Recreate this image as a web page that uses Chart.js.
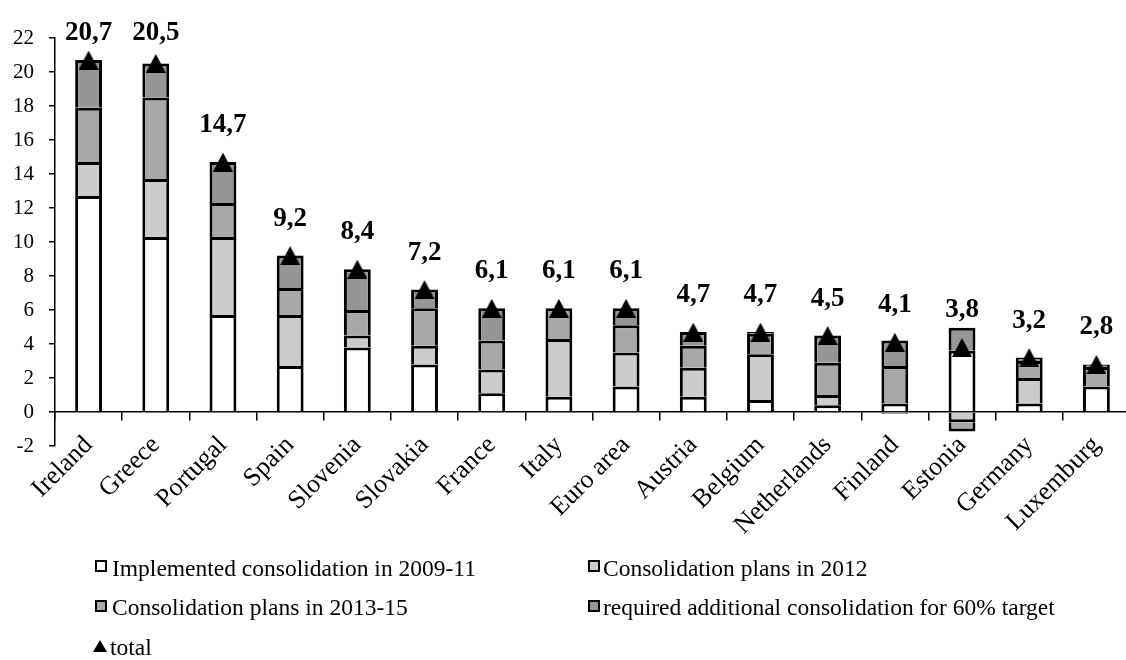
<!DOCTYPE html>
<html>
<head>
<meta charset="utf-8">
<script src="https://cdn.jsdelivr.net/npm/chart.js@4.4.1/dist/chart.umd.min.js"></script>
<style>
  html, body { margin: 0; padding: 0; background: #fff; overflow: hidden; width: 1126px; height: 660px; }
  #wrap { position: absolute; left: 0; top: 0; width: 1140px; height: 560px; }
  #legend { position: absolute; left: 0; top: 0; width: 1126px; height: 660px; pointer-events: none;
            font-family: "Liberation Serif", "Times New Roman", serif; font-size: 23.5px; color: #000; }
  .lg-text { position: absolute; line-height: 23px; white-space: nowrap; }
  .lg-box { position: absolute; width: 12px; height: 12px; box-sizing: border-box; border: 2px solid #000; }
  .lg-tri { position: absolute; width: 0; height: 0; border-left: 7px solid transparent; border-right: 7px solid transparent; border-bottom: 12px solid #000; }
</style>
</head>
<body>
<div id="wrap"><canvas id="c"></canvas></div>
<div id="legend"></div>
<script>
const categories = ["Ireland","Greece","Portugal","Spain","Slovenia","Slovakia","France","Italy","Euro area","Austria","Belgium","Netherlands","Finland","Estonia","Germany","Luxemburg"];
const implemented2009_11 = [12.7, 10.3, 5.7, 2.7, 3.8, 2.8, 1.1, 0.9, 1.5, 0.9, 0.7, 0.4, 0.5, 3.6, 0.5, 1.5];
const plans2012          = [2.0, 3.4, 4.6, 3.0, 0.7, 1.1, 1.4, 3.4, 2.0, 1.7, 2.7, 0.6, -0.1, -0.6, 1.5, null];
const plans2013_15       = [3.2, 4.8, 2.0, 1.6, 1.5, 2.2, 1.7, 1.8, 1.6, 1.3, 1.2, 1.9, 2.2, -0.55, 1.0, 1.15];
const requiredAdditional = [2.8, 2.0, 2.4, 1.9, 2.4, 1.1, 1.9, null, 1.0, 0.8, 0.1, 1.6, 1.5, 1.35, 0.2, 0.15];
const totals             = [20.7, 20.5, 14.7, 9.2, 8.4, 7.2, 6.1, 6.1, 6.1, 4.7, 4.7, 4.5, 4.1, 3.8, 3.2, 2.8];
const yTicks = [-2, 0, 2, 4, 6, 8, 10, 12, 14, 16, 18, 20, 22];

const seriesNames = ["Implemented consolidation in 2009-11", "Consolidation plans in 2012", "Consolidation plans in 2013-15", "required additional consolidation for 60% target", "total"];
const seriesColors = ["#FFFFFF", "#CCCCCC", "#A8A8A8", "#969696", "#000000"];

const serif = '"Liberation Serif", "Times New Roman", serif';

// triangle marker image used as the point style of the "total" series
const tri = document.createElement('canvas');
tri.width = 20; tri.height = 19;
(function () {
  const t = tri.getContext('2d');
  t.fillStyle = '#000';
  t.beginPath(); t.moveTo(10, 0); t.lineTo(20, 19); t.lineTo(0, 19); t.closePath(); t.fill();
})();

function barSet(label, data, color) {
  return { type: 'bar', label, data, backgroundColor: color, borderColor: '#000', borderWidth: 3,
           borderSkipped: 'start', stack: 's', order: 2, xAxisID: 'x', yAxisID: 'y',
           barPercentage: 0.4, categoryPercentage: 1.0 };
}

const valueLabels = {
  id: 'valueLabels',
  afterDatasetsDraw(chart) {
    const ctx = chart.ctx, xs = chart.scales.x, ys = chart.scales.y;
    ctx.save();
    ctx.font = 'bold 27px ' + serif;
    ctx.fillStyle = '#000';
    ctx.textAlign = 'center';
    ctx.textBaseline = 'alphabetic';
    totals.forEach((v, i) => {
      const x = xs.getPixelForValue(i);
      const y = Math.max(ys.getPixelForValue(v) - 30, 40);
      ctx.fillText(v.toFixed(1).replace('.', ','), x, y);
    });
    ctx.restore();
  }
};

const chart = new Chart(document.getElementById('c'), {
  data: {
    labels: categories,
    datasets: [
      barSet(seriesNames[0], implemented2009_11, seriesColors[0]),
      barSet(seriesNames[1], plans2012, seriesColors[1]),
      barSet(seriesNames[2], plans2013_15, seriesColors[2]),
      barSet(seriesNames[3], requiredAdditional, seriesColors[3]),
      { type: 'line', label: seriesNames[4], data: totals, showLine: false, order: 0,
        pointStyle: tri, pointRadius: 10, pointHoverRadius: 10,
        backgroundColor: '#000', borderColor: '#000', borderWidth: 0, xAxisID: 'x', yAxisID: 'y' }
    ]
  },
  options: {
    responsive: true, maintainAspectRatio: false, animation: false,
    devicePixelRatio: 1,
    layout: { padding: { top: 38, right: 3, bottom: 114, left: 0 } },
    plugins: { legend: { display: false }, tooltip: { enabled: false }, title: { display: false } },
    scales: {
      x: {
        type: 'category', position: { y: -2 }, offset: true, stacked: true,
        grid: { display: false, offset: true },
        border: { display: false },
        ticks: { maxRotation: 45, minRotation: 45, autoSkip: false, color: '#000', padding: -24,
                 font: { family: serif, size: 26 } }
      },
      x2: {
        type: 'category', position: { y: 0 }, offset: true, labels: categories,
        grid: { display: true, offset: true, drawOnChartArea: false, drawTicks: true, tickLength: 8, color: '#000', lineWidth: 1.5 },
        border: { display: true, color: '#000', width: 1.5 },
        ticks: { display: false }
      },
      y: {
        type: 'linear', stacked: true, min: -2, max: 22,
        afterBuildTicks(s) { s.ticks = yTicks.map(v => ({ value: v })); },
        grid: { drawOnChartArea: false, drawTicks: true, tickLength: 6, color: '#000', lineWidth: 1.5 },
        border: { display: true, color: '#000', width: 1.5 },
        ticks: { color: '#000', padding: 15, font: { family: serif, size: 21 } },
        afterFit(s) { s.width = 55; }
      }
    }
  },
  plugins: [valueLabels]
});

// HTML legend built from the dataset labels/colours
const legendPos = [
  { box: [95, 560], text: [112, 557] },
  { box: [588, 560], text: [603, 557] },
  { box: [95, 600], text: [112, 596] },
  { box: [588, 600], text: [603, 596] },
  { box: [93, 640], text: [110, 636] }
];
const lg = document.getElementById('legend');
chart.data.datasets.forEach((ds, i) => {
  const p = legendPos[i];
  const mark = document.createElement('div');
  if (ds.type === 'line') {
    mark.className = 'lg-tri';
  } else {
    mark.className = 'lg-box';
    mark.style.background = ds.backgroundColor;
  }
  mark.style.left = p.box[0] + 'px';
  mark.style.top = p.box[1] + 'px';
  lg.appendChild(mark);
  const t = document.createElement('div');
  t.className = 'lg-text';
  t.textContent = ds.label;
  t.style.left = p.text[0] + 'px';
  t.style.top = p.text[1] + 'px';
  lg.appendChild(t);
});
</script>
</body>
</html>
